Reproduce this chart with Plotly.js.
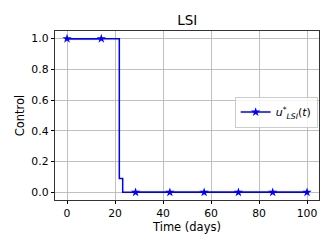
<!DOCTYPE html>
<html><head><meta charset="utf-8">
<script src="https://cdn.plot.ly/plotly-3.0.1.min.js"></script>
<style>html,body{margin:0;padding:0;background:#fff}#p{width:332px;height:249px}</style>
</head><body><div id="p"></div>
<script>
// Control trajectory (piecewise)
const timeDays = [0, 14.29, 21.8, 21.8, 23.2, 23.2, 28.57, 42.86, 57.14, 71.43, 85.71, 100];
const control  = [1, 1, 1, 0.09, 0.09, 0, 0, 0, 0, 0, 0, 0];
// Marker points (every 100/7 days); null breaks the connecting line
const markerTime = [0, 14.29, null, 28.57, 42.86, 57.14, 71.43, 85.71, 100];
const markerCtrl = [1, 1, null, 0, 0, 0, 0, 0, 0];
const xTicks = [0, 20, 40, 60, 80, 100];
const yTicks = [0.0, 0.2, 0.4, 0.6, 0.8, 1.0];
const yTickText = ["0.0", "0.2", "0.4", "0.6", "0.8", "1.0"];

const lineTrace = {
  x: timeDays, y: control, mode: 'lines', type: 'scatter', showlegend: false,
  line: {color: '#0000ff', width: 1.5}
};
const markTrace = {
  x: markerTime, y: markerCtrl, mode: 'lines+markers', type: 'scatter', connectgaps: false,
  name: '<i>u</i><sup>*</sup><sub><i>LSI</i></sub>(<i>t</i>)',
  line: {color: '#0000ff', width: 1.5},
  marker: {symbol: 'star', color: '#0000ff', size: 7}
};
const layout = {
  width: 332, height: 249,
  margin: {l: 55, r: 12.5, t: 30.7, b: 49},
  paper_bgcolor: '#fff', plot_bgcolor: '#fff',
  font: {family: 'DejaVu Sans', size: 11, color: '#000'},
  title: {text: 'LSI', font: {family: 'DejaVu Sans', size: 13.5, color: '#000'}, x: 0.564, xanchor: 'center', y: 0.92, yanchor: 'middle'},
  xaxis: {range: [-5, 105], tickvals: xTicks, ticks: 'outside', ticklen: 3.5, tickcolor: '#000',
    tickfont: {size: 10.8},
    showgrid: true, gridcolor: '#b0b0b0', gridwidth: 0.8, zeroline: false,
    showline: true, linecolor: '#000', linewidth: 0.8, mirror: true,
    title: {text: 'Time (days)', font: {family: 'DejaVu Sans', size: 11.5}, standoff: 2}},
  yaxis: {range: [-0.05, 1.05], tickvals: yTicks, ticktext: yTickText, ticks: 'outside', ticklen: 3.5, tickcolor: '#000',
    tickfont: {size: 10.8},
    showgrid: true, gridcolor: '#b0b0b0', gridwidth: 0.8, zeroline: false,
    showline: true, linecolor: '#000', linewidth: 0.8, mirror: true,
    title: {text: 'Control', font: {family: 'DejaVu Sans', size: 11.5}, standoff: 4}},
  showlegend: true,
  legend: {x: 0.995, xanchor: 'right', y: 0.52, yanchor: 'middle', bgcolor: 'rgba(255,255,255,0.8)',
    bordercolor: '#ccc', borderwidth: 1, font: {family: 'DejaVu Sans', size: 11}, itemwidth: 30}
};
Plotly.newPlot('p', [lineTrace, markTrace], layout, {staticPlot: true, displayModeBar: false});
</script></body></html>
